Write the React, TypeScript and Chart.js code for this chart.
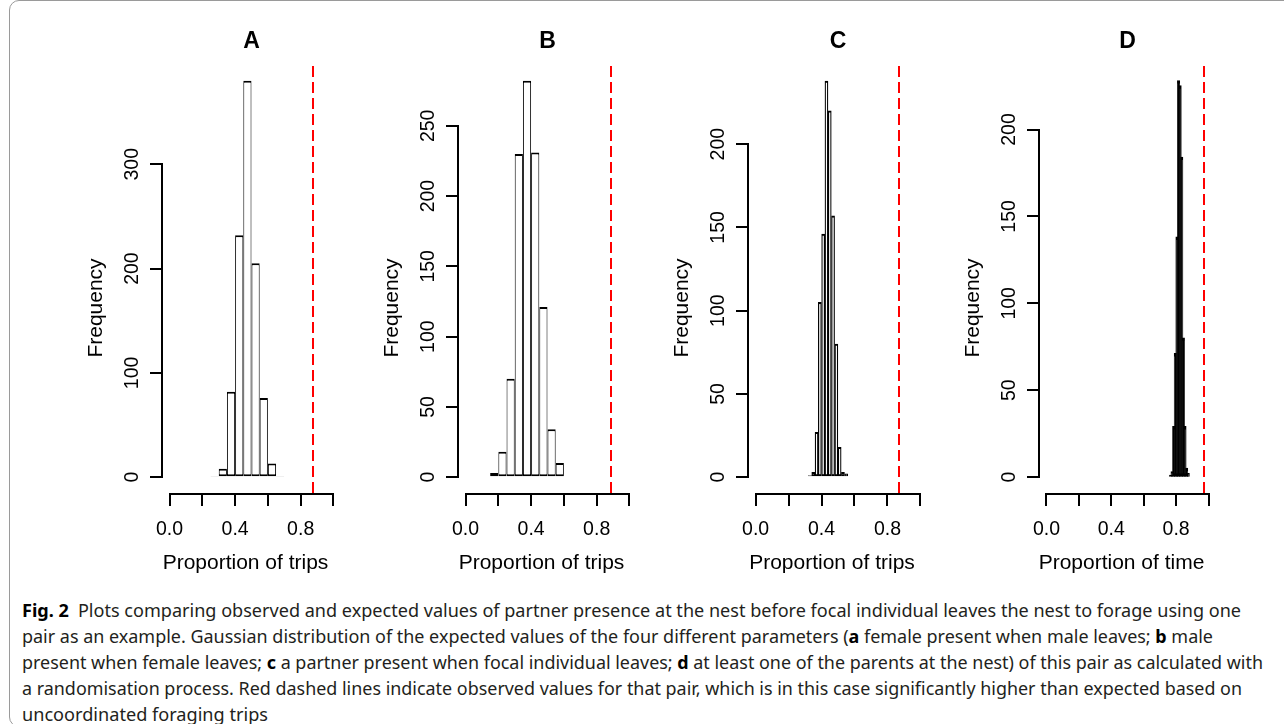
import React, { useEffect, useLayoutEffect, useRef } from "react";
import { Chart, registerables } from "chart.js";

Chart.register(...registerables);

// ---------------- data ----------------
const panelLabels = ["A", "B", "C", "D"];
const xAxisTitles = ["Proportion of trips", "Proportion of trips", "Proportion of trips", "Proportion of time"];
const yAxisTitle = "Frequency";
const binWidths = [0.05, 0.05, 0.02, 0.01];

const binStartsA = [0.25, 0.3, 0.35, 0.4, 0.45, 0.5, 0.55, 0.6, 0.65];
const countsA = [1, 8, 82, 232, 380, 205, 76, 13, 1];

const binStartsB = [0.15, 0.2, 0.25, 0.3, 0.35, 0.4, 0.45, 0.5, 0.55];
const countsB = [3, 18, 70, 230, 282, 231, 121, 34, 10];

const binStartsC = [0.32, 0.34, 0.36, 0.38, 0.4, 0.42, 0.44, 0.46, 0.48, 0.5, 0.52, 0.54];
const countsC = [1, 3, 27, 105, 146, 238, 220, 157, 80, 18, 3, 2];

const binStartsD = [0.76, 0.77, 0.78, 0.79, 0.8, 0.81, 0.82, 0.83, 0.84, 0.85, 0.86, 0.87];
const countsD = [1, 3, 29, 71, 138, 228, 225, 184, 80, 29, 5, 2];

const observedValues = [0.873, 0.89, 0.873, 0.97];

const xTickValues = [0, 0.2, 0.4, 0.6, 0.8, 1.0];
const xTickLabels = ["0.0", "", "0.4", "", "0.8", ""];
const yTicksA = [0, 100, 200, 300];
const yTicksB = [0, 50, 100, 150, 200, 250];
const yTicksC = [0, 50, 100, 150, 200];
const yTicksD = [0, 50, 100, 150, 200];

const allBinStarts = [binStartsA, binStartsB, binStartsC, binStartsD];
const allCounts = [countsA, countsB, countsC, countsD];
const allYTicks = [yTicksA, yTicksB, yTicksC, yTicksD];

// ---------------- layout / style ----------------
const FONT = "'Liberation Sans', Arial, Helvetica, sans-serif";
const PLOT_LEFT = [163, 459, 749, 1040];
const PLOT_WIDTH = [177, 177, 178, 175];
const BAR_FILL = ["#ffffff", "#ffffff", "#ffffff", "#000000"];
const BAR_SIDE = [1, 1, 1.25, 1];
const BAR_INFLATE = [0, 0, 0.2, 0.7];
const Y_SCALE_W = 80;
const RIGHT_PAD = 20;
const CANVAS_H = 583;

type Seg = { t: string; b?: boolean };
const captionLines: Seg[][] = [
  [
    { t: "Fig. 2", b: true },
    { t: "\u2002Plots comparing observed and expected values of partner presence at the nest before focal individual leaves the nest to forage using one" },
  ],
  [
    { t: "pair as an example. Gaussian distribution of the expected values of the four different parameters (" },
    { t: "a", b: true },
    { t: " female present when male leaves; " },
    { t: "b", b: true },
    { t: " male" },
  ],
  [
    { t: "present when female leaves; " },
    { t: "c", b: true },
    { t: " a partner present when focal individual leaves; " },
    { t: "d", b: true },
    { t: " at least one of the parents at the nest) of this pair as calculated with" },
  ],
  [
    { t: "a randomisation process. Red dashed lines indicate observed values for that pair, which is in this case significantly higher than expected based on" },
  ],
  [{ t: "uncoordinated foraging trips" }],
];
const CAPTION_WIDTHS = [1219, 1191, 1241, 1220, 246];

// ---------------- plugin: R-style axes, observed line, axis titles ----------------
const rStylePlugin = {
  id: "rStyle",
  afterDraw(chart: any, _args: any, opts: any) {
    const { ctx, chartArea } = chart;
    const xs = chart.scales.x;
    const ys = chart.scales.y;
    ctx.save();
    ctx.strokeStyle = "#000";
    ctx.lineWidth = 2;
    ctx.lineCap = "butt";
    const x0 = xs.getPixelForValue(xTickValues[0]);
    const x1 = xs.getPixelForValue(xTickValues[xTickValues.length - 1]);
    ctx.beginPath();
    ctx.moveTo(Math.round(x0) - 1, chartArea.bottom + 1);
    ctx.lineTo(Math.round(x1) + 1, chartArea.bottom + 1);
    ctx.stroke();
    const yt = opts.yTicks as number[];
    const y0 = ys.getPixelForValue(yt[0]);
    const y1 = ys.getPixelForValue(yt[yt.length - 1]);
    ctx.beginPath();
    ctx.moveTo(chartArea.left - 1, Math.round(y0) + 1);
    ctx.lineTo(chartArea.left - 1, Math.round(y1) - 1);
    ctx.stroke();

    const xo = Math.round(xs.getPixelForValue(opts.observed));
    ctx.strokeStyle = "#ff0000";
    ctx.lineWidth = 2;
    ctx.setLineDash([11, 5]);
    ctx.beginPath();
    ctx.moveTo(xo, chartArea.bottom);
    ctx.lineTo(xo, chartArea.top);
    ctx.stroke();
    ctx.setLineDash([]);

    ctx.fillStyle = "#000";
    ctx.font = `21px ${FONT}`;
    ctx.textAlign = "center";
    ctx.textBaseline = "alphabetic";
    ctx.fillText(opts.xTitle, (chartArea.left + chartArea.right) / 2 - 6, chartArea.bottom + 76);
    ctx.translate(chartArea.left - 61, chartArea.bottom - 185);
    ctx.rotate(-Math.PI / 2);
    ctx.fillText(opts.yTitle, 0, 0);
    ctx.restore();
  },
};

function Panel({ idx }: { idx: number }) {
  const ref = useRef<HTMLCanvasElement | null>(null);
  const canvasLeft = PLOT_LEFT[idx] - Y_SCALE_W;
  const canvasW = Y_SCALE_W + PLOT_WIDTH[idx] + RIGHT_PAD;

  useEffect(() => {
    if (!ref.current) return;
    const w = binWidths[idx];
    const counts = allCounts[idx];
    const starts = allBinStarts[idx];
    const yTicks = allYTicks[idx];
    const ymax = Math.max(...counts);
    const data = starts.map((s, i) => ({ x: s + w / 2, y: counts[i] }));
    const side = BAR_SIDE[idx];

    const chart = new Chart(ref.current, {
      type: "bar",
      data: {
        datasets: [
          {
            data,
            backgroundColor: BAR_FILL[idx],
            borderColor: "#000000",
            borderWidth: { top: 2, left: side, right: side, bottom: 2 },
            borderSkipped: false,
            inflateAmount: BAR_INFLATE[idx],
            barPercentage: 1,
            categoryPercentage: 1,
          } as any,
        ],
      },
      options: {
        responsive: false,
        animation: false,
        events: [],
        layout: { padding: { left: 0, right: RIGHT_PAD, top: 0, bottom: 0 } },
        plugins: {
          legend: { display: false },
          tooltip: { enabled: false },
          title: {
            display: true,
            text: panelLabels[idx],
            color: "#000",
            fullSize: false,
            font: { family: FONT, size: 23, weight: "bold", lineHeight: "26px" } as any,
            padding: { top: 29, bottom: 10 },
          },
          rStyle: {
            observed: observedValues[idx],
            yTicks,
            xTitle: xAxisTitles[idx],
            yTitle: yAxisTitle,
          },
        } as any,
        scales: {
          x: {
            type: "linear",
            min: -0.04,
            max: 1.04,
            offset: false,
            afterBuildTicks: (s: any) => {
              s.ticks = xTickValues.map((v) => ({ value: v }));
            },
            afterFit: (s: any) => {
              s.height = CANVAS_H - 493;
            },
            ticks: {
              autoSkip: false,
              maxRotation: 0,
              minRotation: 0,
              padding: 12,
              color: "#000",
              font: { family: FONT, size: 19.5 },
              callback: (_v: any, i: number) => xTickLabels[i],
            },
            grid: {
              display: true,
              drawOnChartArea: false,
              drawTicks: true,
              tickLength: 13,
              color: "#000",
              lineWidth: 2,
              offset: false,
            },
            border: { display: false },
          } as any,
          y: {
            type: "linear",
            min: -0.04 * ymax,
            max: 1.04 * ymax,
            afterBuildTicks: (s: any) => {
              s.ticks = yTicks.map((v) => ({ value: v }));
            },
            afterFit: (s: any) => {
              s.width = Y_SCALE_W;
            },
            ticks: {
              minRotation: 90,
              maxRotation: 90,
              crossAlign: "center",
              padding: 1,
              color: "#000",
              font: { family: FONT, size: 19.5 },
              callback: (v: any) => String(v),
            },
            grid: {
              display: true,
              drawOnChartArea: false,
              drawTicks: true,
              tickLength: 13,
              color: "#000",
              lineWidth: 2,
            },
            border: { display: false },
          } as any,
        },
      },
      plugins: [rStylePlugin as any],
    });
    return () => chart.destroy();
  }, [idx]);

  return (
    <canvas
      ref={ref}
      width={canvasW}
      height={CANVAS_H}
      style={{ position: "absolute", left: canvasLeft, top: 0, width: canvasW, height: CANVAS_H }}
    />
  );
}

function Caption() {
  const refs = useRef<(HTMLSpanElement | null)[]>([]);
  useLayoutEffect(() => {
    const fit = () => {
      refs.current.forEach((el, i) => {
        if (!el) return;
        el.style.transform = "none";
        const w = el.getBoundingClientRect().width;
        if (w > 0) el.style.transform = `scaleX(${CAPTION_WIDTHS[i] / w})`;
      });
    };
    fit();
    if ((document as any).fonts && (document as any).fonts.ready) {
      (document as any).fonts.ready.then(fit);
    }
  }, []);
  const lh = 26;
  return (
    <>
      {captionLines.map((line, i) => (
        <span
          key={i}
          ref={(el) => {
            refs.current[i] = el;
          }}
          style={{
            position: "absolute",
            left: 22,
            top: 597 + i * lh,
            height: lh,
            lineHeight: `${lh}px`,
            whiteSpace: "pre",
            transformOrigin: "0 50%",
            fontFamily: "'Noto Sans', 'Open Sans', sans-serif",
            fontSize: 17.5,
            color: "#231f20",
          }}
        >
          {line.map((s, j) => (
            <span key={j} style={{ fontWeight: s.b ? 700 : 400, color: s.b ? "#000" : undefined }}>
              {s.t}
            </span>
          ))}
        </span>
      ))}
    </>
  );
}

export default function App() {
  return (
    <div
      style={{
        position: "absolute",
        left: 0,
        top: 0,
        width: 1284,
        height: 724,
        overflow: "hidden",
        background: "#ffffff",
      }}
    >
      <div
        style={{
          position: "absolute",
          left: 9,
          top: 0,
          width: 1320,
          height: 727,
          border: "1px solid #9a9a9a",
          borderRadius: 10,
          boxSizing: "border-box",
        }}
      />
      {[0, 1, 2, 3].map((i) => (
        <Panel key={i} idx={i} />
      ))}
      <Caption />
    </div>
  );
}
